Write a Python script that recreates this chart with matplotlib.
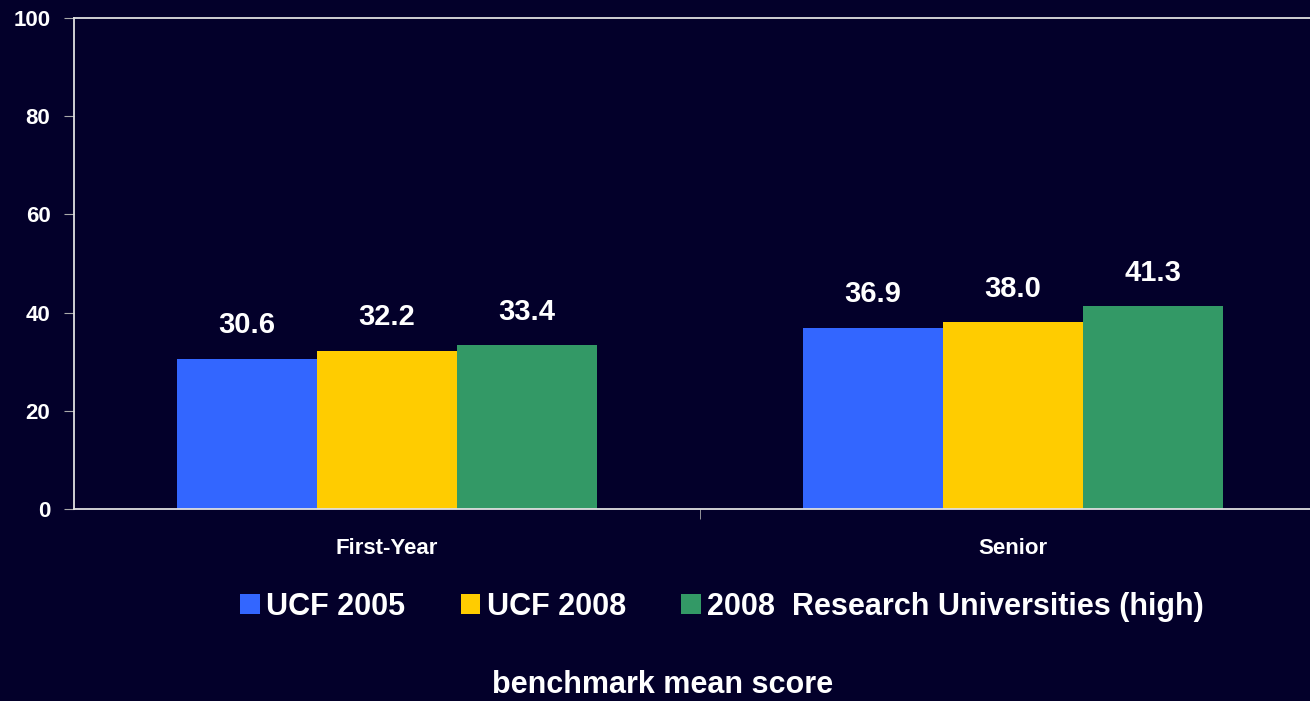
import matplotlib
matplotlib.use('Agg')
import matplotlib.pyplot as plt
import numpy as np

# data
categories = ['First-Year', 'Senior']
series = ['UCF 2005', 'UCF 2008', '2008  Research Universities (high)']
values = [
    [30.6, 36.9],
    [32.2, 38.0],
    [33.4, 41.3],
]
colors = ['#3366FF', '#FFCC00', '#339966']
bg = '#03002A'

plt.rcParams['font.family'] = ['Liberation Sans', 'DejaVu Sans']
plt.rcParams['font.weight'] = 'bold'

fig = plt.figure(figsize=(13.10, 7.01), dpi=100, facecolor=bg)
ax = fig.add_axes([74 / 1310, 192 / 701, 1252 / 1310, 491 / 701], facecolor=bg)

x = np.arange(len(categories))
w = 0.2236
for i, (name, vals, c) in enumerate(zip(series, values, colors)):
    bars = ax.bar(x + (i - 1) * w, vals, w, color=c, label=name, edgecolor='none')
    for b, v in zip(bars, vals):
        ax.annotate('%.1f' % v, (b.get_x() + b.get_width() / 2, v),
                    xytext=(0, 14), textcoords='offset points',
                    ha='center', va='bottom', color='white',
                    fontsize=21, fontweight='bold')

ax.set_xlim(-0.5, 1.5)
ax.set_ylim(0, 100)
ax.set_yticks([0, 20, 40, 60, 80, 100])
ax.set_xticks(x)
ax.set_xticklabels(categories)
ax.set_xticks([0.5], minor=True)
ax.tick_params(axis='x', which='major', length=0, pad=21, labelsize=16, colors='white')
ax.tick_params(axis='x', which='minor', length=7, color='#aaaaaa')
ax.tick_params(axis='y', length=7, pad=10, labelsize=16, colors='white', color='#aaaaaa')
for lab in ax.get_xticklabels() + ax.get_yticklabels():
    lab.set_fontweight('bold')

for s in ['left', 'bottom', 'top']:
    ax.spines[s].set_color('#e0e0e0')
    ax.spines[s].set_linewidth(1.3)
ax.spines['right'].set_visible(False)

leg = fig.legend(loc='center', bbox_to_anchor=(722 / 1310, 1 - 607 / 701), ncol=3,
                 frameon=False, handlelength=0.65, handleheight=0.65,
                 handletextpad=0.2, columnspacing=1.8,
                 prop={'weight': 'bold', 'size': 22})
for t in leg.get_texts():
    t.set_color('white')

fig.text(663 / 1310, 1 - 685 / 701, 'benchmark mean score', ha='center', va='center',
         color='white', fontsize=22, fontweight='bold')

fig.savefig('out.png', dpi=100, facecolor=bg)
